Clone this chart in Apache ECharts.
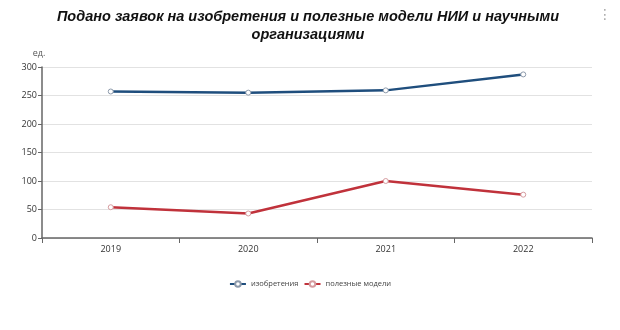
<!DOCTYPE html>
<html>
<head>
<meta charset="utf-8">
<script src="https://cdn.jsdelivr.net/npm/echarts@6/dist/echarts.min.js"></script>
<style>
  html, body { margin: 0; padding: 0; background: #fff; }
  #chart { width: 620px; height: 330px; }
</style>
</head>
<body>
<div id="chart"></div>
<script>
// Годы и значения по каждому ряду
const years = ['2019', '2020', '2021', '2022'];
const inventions = [257, 255, 259, 287];
const utilityModels = [54, 43, 100, 76];
const seriesNames = ['изобретения', 'полезные модели'];
const yTicks = { min: 0, max: 300, interval: 50 };

const chart = echarts.init(document.getElementById('chart'), null, { renderer: 'canvas' });

const axisColor = '#666';

chart.setOption({
  backgroundColor: '#fff',
  animation: false,
  title: {
    text: 'Подано заявок на изобретения и полезные модели НИИ и научными\nорганизациями',
    left: 303,
    textAlign: 'center',
    top: 3,
    textStyle: {
      fontFamily: 'Liberation Sans',
      fontStyle: 'italic',
      fontWeight: 'bold',
      fontSize: 14.5,
      lineHeight: 18,
      color: '#111'
    }
  },
  graphic: [{
    type: 'text',
    right: 8,
    top: 8,
    style: { text: '⋮', fill: '#aaa', font: '14px DejaVu Sans' }
  }],
  legend: {
    bottom: 37,
    left: 'center',
    itemWidth: 16,
    itemHeight: 7,
    itemGap: 5,
    textStyle: { fontSize: 7.5, color: '#444', fontFamily: 'Open Sans' },
    data: seriesNames
  },
  grid: { left: 42, right: 28, top: 67, bottom: 92 },
  xAxis: {
    type: 'category',
    data: years,
    boundaryGap: true,
    axisLine: { lineStyle: { color: axisColor, width: 1.5 } },
    axisTick: { show: true, lineStyle: { color: axisColor } },
    axisLabel: { fontSize: 9, color: '#333', fontFamily: 'Open Sans', margin: 7 }
  },
  yAxis: {
    type: 'value',
    name: 'ед.',
    nameGap: 9,
    nameTextStyle: { fontSize: 9, color: '#555', fontFamily: 'Open Sans', padding: [0, 6, 0, 0] },
    min: yTicks.min,
    max: yTicks.max,
    interval: yTicks.interval,
    axisLine: { show: true, lineStyle: { color: axisColor, width: 1.5 } },
    axisTick: { show: true, length: 4, lineStyle: { color: axisColor } },
    axisLabel: { fontSize: 9, color: '#333', fontFamily: 'Open Sans', margin: 5 },
    splitLine: { lineStyle: { color: '#e2e2e2' } }
  },
  series: [
    {
      name: seriesNames[0],
      type: 'line',
      data: inventions,
      symbol: 'circle',
      symbolSize: 5,
      lineStyle: { color: '#1f4e7d', width: 2.5 },
      itemStyle: { color: '#ffffff', borderColor: '#8d9aab', borderWidth: 1 }
    },
    {
      name: seriesNames[1],
      type: 'line',
      data: utilityModels,
      symbol: 'circle',
      symbolSize: 5,
      lineStyle: { color: '#c0323b', width: 2.5 },
      itemStyle: { color: '#ffffff', borderColor: '#d69ca0', borderWidth: 1 }
    }
  ]
});
</script>
</body>
</html>
